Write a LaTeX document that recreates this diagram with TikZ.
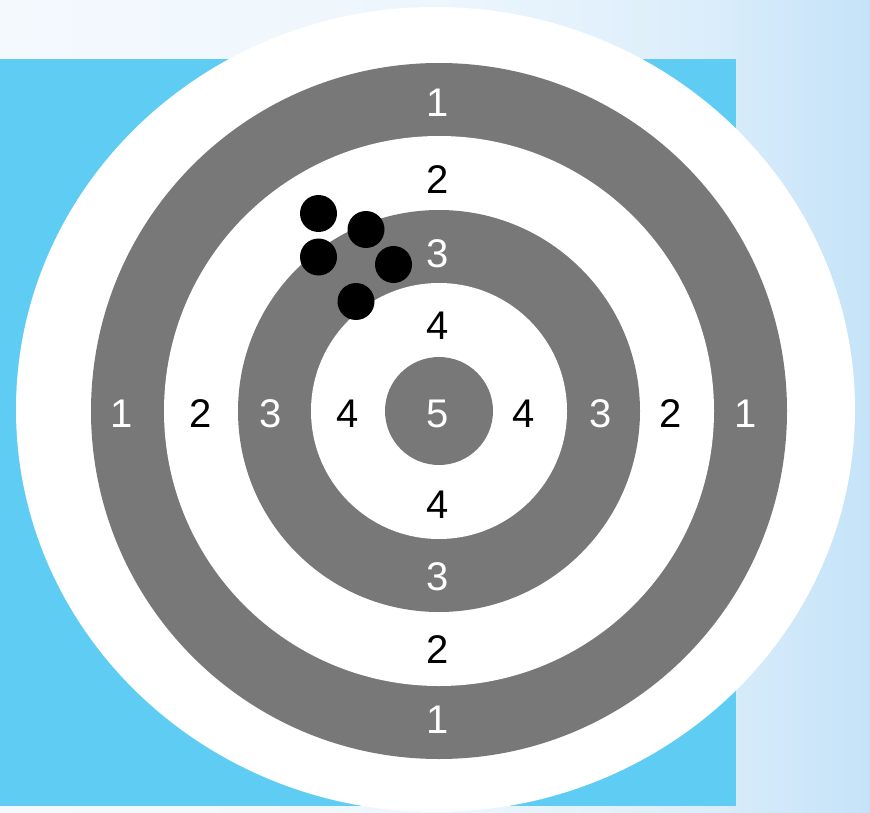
\documentclass[tikz,border=0pt]{standalone}
\usepackage{fontspec}
\setmainfont{Liberation Sans}
\definecolor{bga}{HTML}{F4F9FE}
\definecolor{bgb}{HTML}{EDF6FD}
\definecolor{bgc}{HTML}{DCEEFB}
\definecolor{bgr}{HTML}{C5E3F8}
\definecolor{skyblue}{HTML}{5FCDF3}
\definecolor{ringgray}{HTML}{787878}
\pgfdeclarehorizontalshading{bgshade}{100bp}{color(0bp)=(bga); color(25bp)=(bga); color(50bp)=(bgb); color(65bp)=(bgc); color(75bp)=(bgr); color(100bp)=(bgr)}
\begin{document}
\begin{tikzpicture}[x=1pt,y=-1pt,
  lab/.style={font=\fontsize{40}{44}\selectfont, inner sep=0pt},
  onw/.style={lab, text=black},
  ong/.style={lab, text=white},
  hole/.style={fill=black, circle, minimum size=37pt, inner sep=0pt}]
\useasboundingbox (0,0) rectangle (870,813);
\shade[shading=bgshade] (0,0) rectangle (870,813);
\fill[skyblue] (0,59) rectangle (736,806);
\fill[white] (435.5,409.5) ellipse [x radius=419.5, y radius=402.5];
\coordinate (c) at (439,411);
\fill[ringgray] (c) circle [radius=348];
\fill[white] (c) circle [radius=275];
\fill[ringgray] (c) circle [radius=201];
\fill[white] (c) circle [radius=128];
\fill[ringgray] (c) circle [radius=54];
% vertical labels
\node[ong] (t1) at (438,103) {1};
\node[onw] (t2) at (438,180) {2};
\node[ong] (t3) at (438,254) {3};
\node[onw] (t4) at (438,326) {4};
\node[ong] (m5) at (438,414) {5};
\node[onw] (b4) at (438,505) {4};
\node[ong] (b3) at (438,577) {3};
\node[onw] (b2) at (438,650) {2};
\node[ong] (b1) at (438,720) {1};
% horizontal labels
\node[ong] (l1) at (122,414) {1};
\node[onw] (l2) at (201,414) {2};
\node[ong] (l3) at (271,414) {3};
\node[onw] (l4) at (348,414) {4};
\node[onw] (r4) at (524,414) {4};
\node[ong] (r3) at (601,414) {3};
\node[onw] (r2) at (671,414) {2};
\node[ong] (r1) at (746,414) {1};
% shots
\node[hole] (h1) at (318.5,213.5) {};
\node[hole] (h2) at (366,229.5) {};
\node[hole] (h3) at (318.5,257) {};
\node[hole] (h4) at (393.5,264.5) {};
\node[hole] (h5) at (356,301.5) {};
\end{tikzpicture}
\end{document}
